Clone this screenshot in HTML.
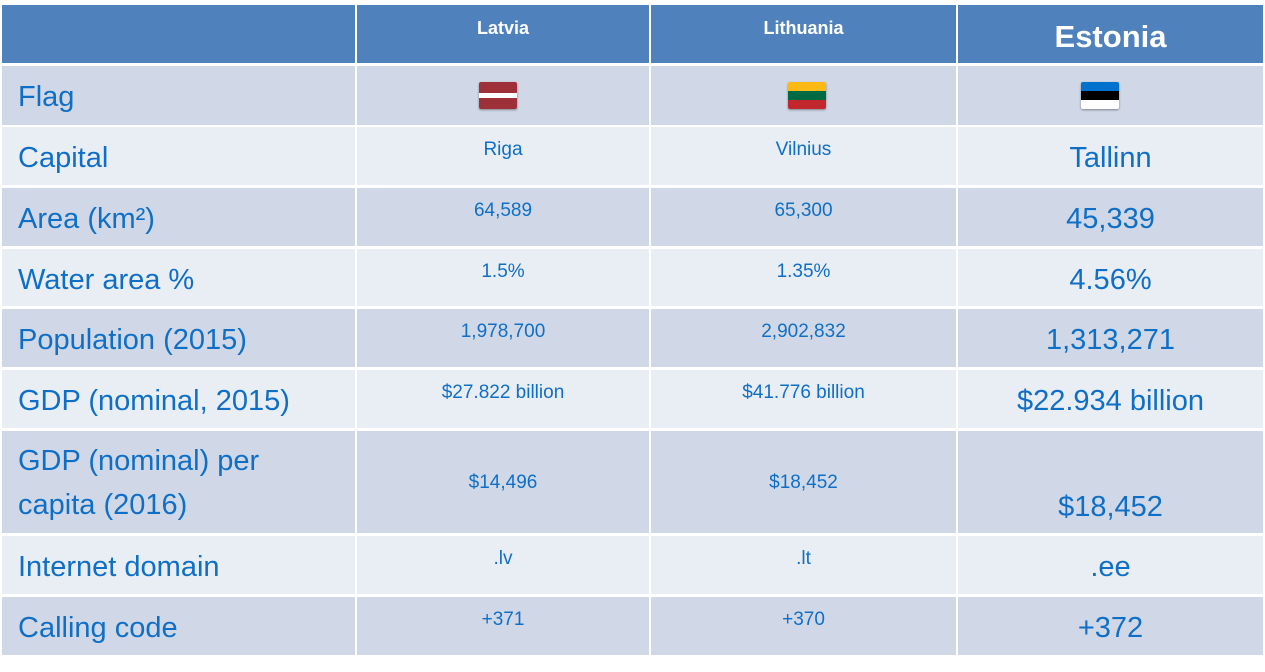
<!DOCTYPE html>
<html><head><meta charset="utf-8"><style>
body{margin:0;width:1265px;height:672px;background:#fff;position:relative;overflow:hidden;font-family:"Liberation Sans",Arial,sans-serif}
.c{position:absolute;box-sizing:border-box;color:#0f6fc6;text-align:center}
.h{background:#4f81bd;color:#fff;font-weight:bold}
.d{background:#d0d8e8}.l{background:#e9edf4}
.lab{text-align:left;padding-left:16px;font-size:29px}
.sm{font-size:19px}
.big{font-size:29px}
.flag{position:absolute;width:38px;height:27px;border-radius:2px;box-shadow:0 1px 2px rgba(0,0,0,.4)}
</style></head><body>
<div id="t"></div>
<script>
const cols=[[2,355],[357,649],[651,956],[958,1263]];
const rows=[[66,125],[127,185],[188,246],[249,306],[309,367],[370,428],[431,533],[536,594],[597,655]];
const labels=["Flag","Capital","Area (km²)","Water area %","Population (2015)","GDP (nominal, 2015)","GDP (nominal) per<br>capita (2016)","Internet domain","Calling code"];
const lv=["","Riga","64,589","1.5%","1,978,700","$27.822 billion","$14,496",".lv","+371"];
const lt=["","Vilnius","65,300","1.35%","2,902,832","$41.776 billion","$18,452",".lt","+370"];
const ee=["","Tallinn","45,339","4.56%","1,313,271","$22.934 billion","$18,452",".ee","+372"];
const T=document.getElementById('t');
function cell(x0,x1,y0,y1,cls,html,style){const d=document.createElement('div');d.className='c '+cls;d.style.cssText=`left:${x0}px;top:${y0}px;width:${x1-x0}px;height:${y1-y0}px;`+(style||'');d.innerHTML=html;T.appendChild(d);return d;}
let e;
e=cell(2,355,5,63,'h','');
e=cell(357,649,5,63,'h','Latvia','font-size:18px;line-height:18px;padding-top:14px');
e=cell(651,956,5,63,'h','Lithuania','font-size:18px;line-height:18px;padding-top:14px');
e=cell(958,1263,5,63,'h','Estonia','font-size:31px;line-height:31px;padding-top:16px');
rows.forEach((r,i)=>{
 const bg=i%2==0?'d':'l';const tall=i==6;
 e=cell(cols[0][0],cols[0][1],r[0],r[1],bg+' lab',labels[i],tall?'line-height:44px;padding-top:8px':'line-height:29px;padding-top:17px');
 
 e=cell(cols[1][0],cols[1][1],r[0],r[1],bg+' sm',lv[i],tall?'line-height:19px;padding-top:42px':'line-height:19px;padding-top:13px');
 
 e=cell(cols[2][0],cols[2][1],r[0],r[1],bg+' sm',lt[i],tall?'line-height:19px;padding-top:42px':'line-height:19px;padding-top:13px');
 
 e=cell(cols[3][0],cols[3][1],r[0],r[1],bg+' big',ee[i],tall?'line-height:30px;padding-top:61px':'line-height:30px;padding-top:16px');
 
});
function flag(x,stripes,h,name){const f=document.createElement('div');f.className='flag';f.style.left=x+'px';f.style.top='82px';
 let g=[],acc=0;stripes.forEach((s,k)=>{g.push(`${s} ${acc}%`);acc+=h[k];g.push(`${s} ${acc}%`);});
 f.style.background=`linear-gradient(${g.join(',')})`;T.appendChild(f);}
flag(479,['#9e3039','#ffffff','#9e3039'],[40,20,40],'latvia-flag');
flag(788,['#fdb913','#006a44','#c1272d'],[33.3,33.4,33.3],'lithuania-flag');
flag(1081,['#0072ce','#000000','#ffffff'],[33.3,33.4,33.3],'estonia-flag');
</script>
</body></html>
